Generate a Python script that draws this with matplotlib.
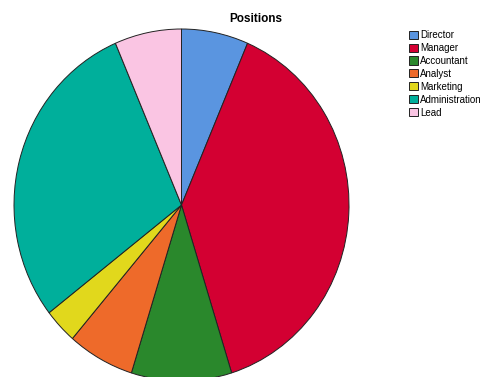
import matplotlib.pyplot as plt

plt.rcParams["font.family"] = ["Liberation Sans", "DejaVu Sans"]

labels = ["Director", "Manager", "Accountant", "Analyst", "Marketing", "Administration", "Lead"]
counts = [2, 12, 3, 2, 1, 9, 2]
colors = ["#5A95E0", "#D30032", "#2A882C", "#EE6A2A", "#E1D81C", "#00AF9B", "#FAC5E3"]

fig = plt.figure(figsize=(4.82, 3.77), dpi=100)
# pie area: slightly taller than wide, bottom edge runs past the bottom of the image
ax = fig.add_axes([14 / 482, -4 / 377, 335 / 482, 352 / 377])
wedges, _ = ax.pie(counts, colors=colors, startangle=90, counterclock=False,
                   wedgeprops={"edgecolor": "#222222", "linewidth": 0.7})
for w in wedges:
    w.set_clip_on(False)
ax.set_aspect("auto")
ax.set_xlim(-1, 1)
ax.set_ylim(-1, 1)
ax.axis("off")

fig.text(256 / 482, 1 - 19 / 377, "Positions", ha="center", va="center",
         fontsize=8.5, fontweight="bold")

fig.legend(wedges, labels, loc="upper left", bbox_to_anchor=(409 / 482, 1 - 30 / 377),
           frameon=False, fontsize=7, handlelength=0.9, handleheight=0.9,
           handletextpad=0.25, labelspacing=0.3, borderpad=0, borderaxespad=0)

plt.savefig("out.png", dpi=100)
